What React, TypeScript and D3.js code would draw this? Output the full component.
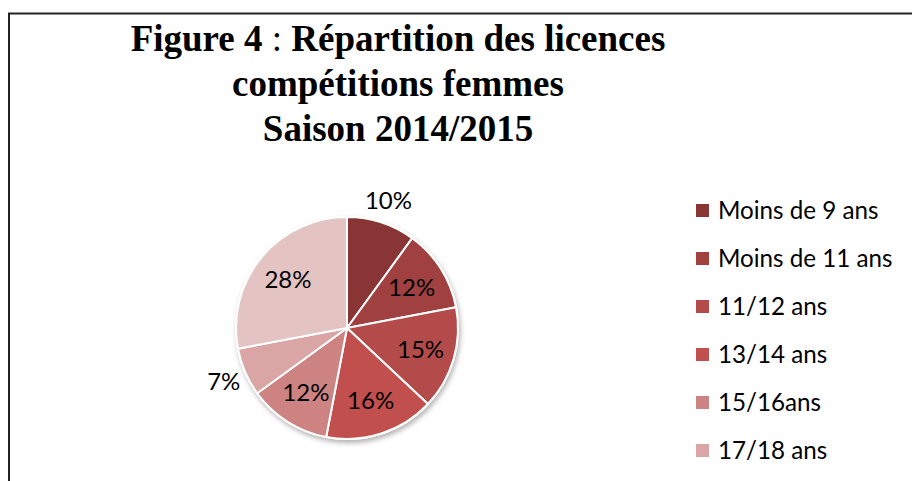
import React from "react";
import * as d3 from "d3";

const categories = [
  "Moins de 9 ans",
  "Moins de 11 ans",
  "11/12 ans",
  "13/14 ans",
  "15/16ans",
  "17/18 ans",
  "Plus de 18 ans",
];
const values = [10, 12, 15, 16, 12, 7, 28];
const colors = ["#8a3634", "#a0413f", "#b24b49", "#c0504d", "#cd8382", "#d9a6a5", "#e4c3c3"];
const legendColors = ["#8a3634", "#a0413f", "#b24b49", "#c0504d", "#cd8382", "#d9a6a5"];
const visibleLegend = 6;
const titleLines = ["compétitions femmes", "Saison 2014/2015"];

const W = 912;
const H = 481;

export default function App() {
  const cx = 347;
  const cy = 328;
  const r = 111;
  const pie = d3.pie<number>().sort(null).value((d) => d);
  const arcs = pie(values);
  const arc = d3.arc<d3.PieArcDatum<number>>().innerRadius(0).outerRadius(r);
  const total = d3.sum(values);

  const labelPos = (a: d3.PieArcDatum<number>) => {
    const mid = (a.startAngle + a.endAngle) / 2;
    const share = a.value / total;
    const k = share < 0.11 ? 1.21 : 0.69;
    return [Math.sin(mid) * r * k, -Math.cos(mid) * r * k];
  };

  const legendY = d3.scaleLinear().domain([0, 1]).range([210.5, 258.5]);

  return (
    <svg
      width={W}
      height={H}
      style={{ position: "absolute", left: 0, top: 0, display: "block", background: "#fff" }}
    >
      <defs>
        <filter id="sh" x="-20%" y="-20%" width="140%" height="140%">
          <feDropShadow dx="1.5" dy="3" stdDeviation="2.5" floodColor="#000" floodOpacity="0.3" />
        </filter>
      </defs>
      <line x1={8} x2={W} y1={13.5} y2={13.5} stroke="#222" strokeWidth={2} />
      <line x1={9} x2={9} y1={13} y2={H} stroke="#222" strokeWidth={2} />

      <g fontFamily="'Liberation Serif', 'Times New Roman', serif" fontWeight="bold" fontSize={37} textAnchor="middle" fill="#000">
        <text x={398} y={51}>
          <tspan>Figure 4 </tspan>
          <tspan fontWeight="normal">:</tspan>
          <tspan> Répartition des licences</tspan>
        </text>
        {titleLines.map((t, i) => (
          <text key={t} x={398} y={96 + i * 44.5}>
            {t}
          </text>
        ))}
      </g>

      <g transform={`translate(${cx},${cy})`}>
        <g filter="url(#sh)">
          {arcs.map((a, i) => (
            <path key={i} d={arc(a) || ""} fill={colors[i]} stroke="#fff" strokeWidth={2} strokeLinejoin="round" />
          ))}
        </g>
        {arcs.map((a, i) => {
          const [x, y] = labelPos(a);
          return (
            <text
              key={"l" + i}
              x={x}
              y={y}
              dy="0.36em"
              textAnchor="middle"
              fontFamily="Lato, 'Open Sans', sans-serif"
              fontSize={24}
              fill="#000"
            >
              {Math.round((a.value / total) * 100)}%
            </text>
          );
        })}
      </g>

      <g fontFamily="Lato, 'Open Sans', sans-serif" fontSize={24.2} fill="#000">
        {categories.slice(0, visibleLegend).map((c, i) => (
          <g key={c} transform={`translate(0,${legendY(i)})`}>
            <rect x={696} y={-6.5} width={13} height={13} fill={legendColors[i]} />
            <text x={718} y={0} dy="0.36em">
              {c}
            </text>
          </g>
        ))}
      </g>
    </svg>
  );
}
